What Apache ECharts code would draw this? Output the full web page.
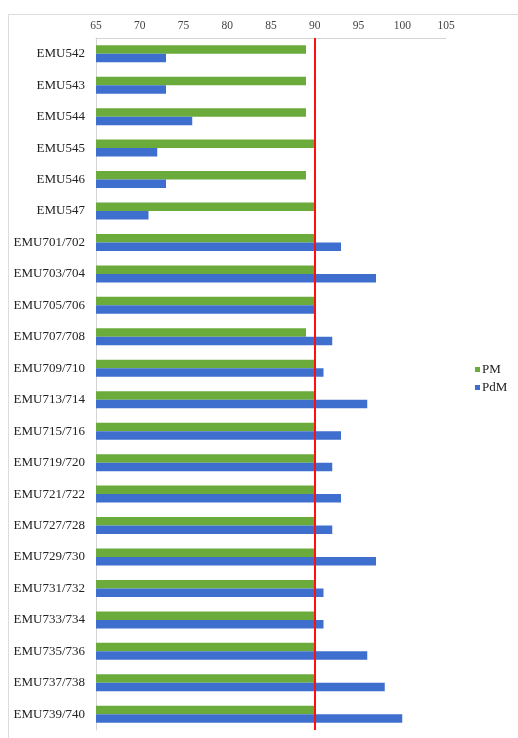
<!DOCTYPE html>
<html>
<head>
<meta charset="utf-8">
<script src="https://cdn.jsdelivr.net/npm/echarts@6/dist/echarts.min.js"></script>
<style>
  html, body { margin: 0; padding: 0; background: #fff; }
  #chart { width: 518px; height: 738px; }
</style>
</head>
<body>
<div id="chart"></div>
<script>
// Fleet units, listed top to bottom
const categories = [
  'EMU542', 'EMU543', 'EMU544', 'EMU545', 'EMU546', 'EMU547',
  'EMU701/702', 'EMU703/704', 'EMU705/706', 'EMU707/708', 'EMU709/710',
  'EMU713/714', 'EMU715/716', 'EMU719/720', 'EMU721/722', 'EMU727/728',
  'EMU729/730', 'EMU731/732', 'EMU733/734', 'EMU735/736', 'EMU737/738',
  'EMU739/740'
];
// Preventive maintenance
const pmValues = [89, 89, 89, 90, 89, 90, 90, 90, 90, 89, 90, 90, 90, 90, 90, 90, 90, 90, 90, 90, 90, 90];
// Predictive maintenance
const pdmValues = [73, 73, 76, 72, 73, 71, 93, 97, 90, 92, 91, 96, 93, 92, 93, 92, 97, 91, 91, 96, 98, 100];
// Value axis ticks and threshold line
const axisMin = 65;
const axisMax = 105;
const axisStep = 5;
const threshold = 90;

const serif = '"Liberation Serif", "DejaVu Serif", serif';

const chart = echarts.init(document.getElementById('chart'), null, { renderer: 'canvas' });
chart.setOption({
  animation: false,
  backgroundColor: '#ffffff',
  graphic: [{
    type: 'rect',
    shape: { x: 8.5, y: 14.5, width: 700, height: 900 },
    style: { fill: 'none', stroke: '#dcdcdc', lineWidth: 1 },
    z: -1
  }],
  legend: {
    orient: 'vertical',
    left: 470,
    top: 358,
    itemWidth: 5,
    itemHeight: 5,
    itemGap: 5,
    icon: 'rect',
    textStyle: { fontFamily: serif, fontSize: 13, color: '#222', padding: [0, 0, 0, -3] },
    data: ['PM', 'PdM']
  },
  grid: { left: 96, right: 72, top: 38, bottom: 8, containLabel: false },
  xAxis: {
    type: 'value',
    position: 'top',
    min: axisMin,
    max: axisMax,
    interval: axisStep,
    axisLine: { show: true, lineStyle: { color: '#d4d4d4', width: 1 } },
    axisTick: { show: false },
    splitLine: { show: false },
    axisLabel: { fontFamily: serif, fontSize: 11.5, color: '#444', margin: 6 }
  },
  yAxis: {
    type: 'category',
    inverse: true,
    data: categories,
    axisLine: { show: true, lineStyle: { color: '#d4d4d4', width: 1 } },
    axisTick: { show: false },
    axisLabel: { fontFamily: serif, fontSize: 13, color: '#222', margin: 11 }
  },
  series: [
    {
      name: 'PM',
      type: 'bar',
      data: pmValues,
      barWidth: 8.5,
      barGap: '0%',
      itemStyle: { color: '#6aab3c' },
      markLine: {
        silent: true,
        symbol: ['none', 'none'],
        label: { show: false },
        lineStyle: { color: '#ff1010', width: 2, type: 'solid' },
        data: [{ xAxis: threshold }],
        z: 10
      }
    },
    {
      name: 'PdM',
      type: 'bar',
      data: pdmValues,
      barWidth: 8.5,
      barGap: '0%',
      itemStyle: { color: '#3f6fce' }
    }
  ]
});
</script>
</body>
</html>
